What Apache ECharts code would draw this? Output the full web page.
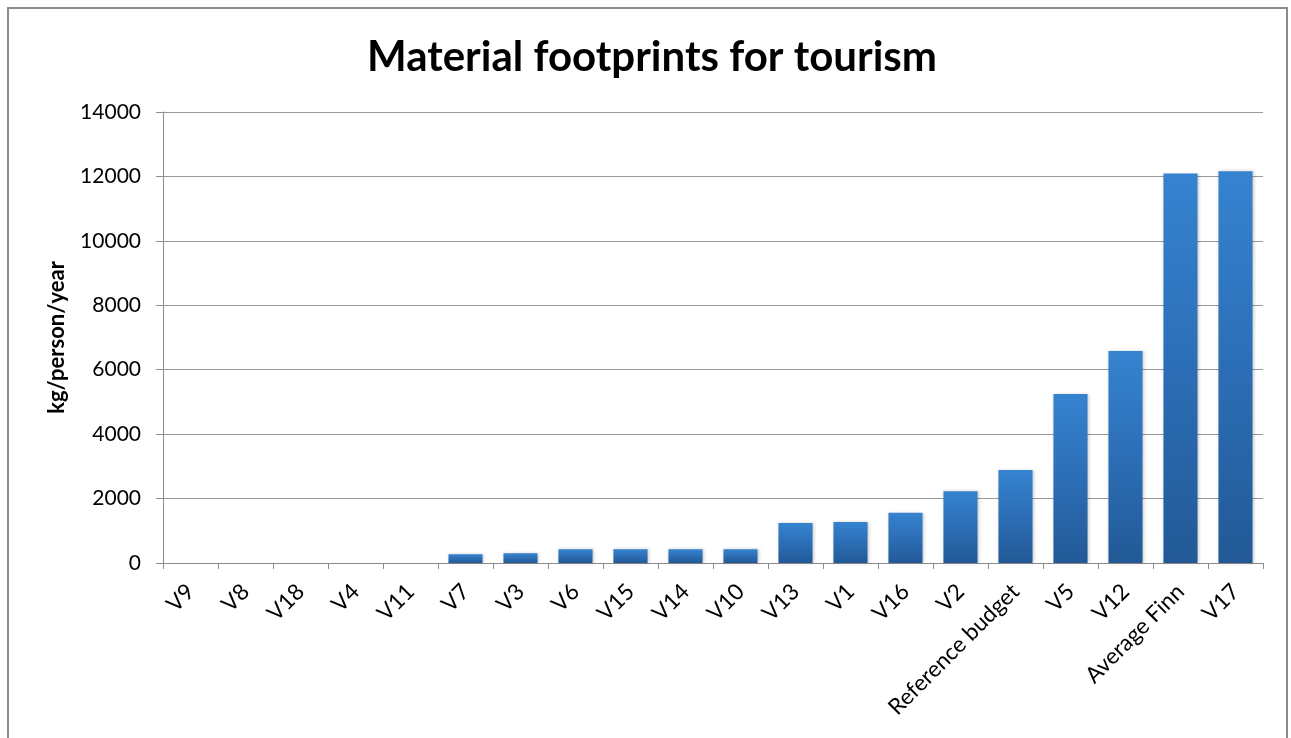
<!DOCTYPE html>
<html>
<head>
<meta charset="utf-8">
<script src="https://cdn.jsdelivr.net/npm/echarts@6/dist/echarts.min.js"></script>
<style>
html,body{margin:0;padding:0;background:#fff;}
#chart{width:1291px;height:738px;}
</style>
</head>
<body>
<div id="chart"></div>
<script>
const titleText = "Material footprints for tourism";
const yAxisName = "kg/person/year";
const categories = ["V9","V8","V18","V4","V11","V7","V3","V6","V15","V14","V10","V13","V1","V16","V2","Reference budget","V5","V12","Average Finn","V17"];
const values = [0,0,0,0,0,270,300,425,425,425,425,1240,1270,1560,2230,2890,5250,6580,12090,12160];
const yMin = 0, yMax = 14000, yStep = 2000;

const chart = echarts.init(document.getElementById('chart'), null, {renderer:'canvas'});
const font = 'Lato, "Open Sans", "Liberation Sans", sans-serif';
chart.setOption({
  backgroundColor:'#ffffff',
  animation:false,
  graphic:[{
    type:'rect', silent:true, z:-10,
    shape:{x:8,y:8,width:1279,height:780},
    style:{fill:'none',stroke:'#8c8c8c',lineWidth:2}
  }],
  title:{
    text:titleText, left:647, textAlign:'center', top:31,
    textStyle:{fontFamily:font,fontSize:42,fontWeight:'bold',color:'#000'}
  },
  grid:{left:163,right:28,top:112,bottom:175,containLabel:false},
  xAxis:{
    type:'category', data:categories,
    boundaryGap:true,
    axisLine:{lineStyle:{color:'#8c8c8c',width:1}},
    axisTick:{show:true,length:6,lineStyle:{color:'#8c8c8c'}},
    axisLabel:{rotate:45,interval:0,fontFamily:font,fontSize:22.5,color:'#000',margin:25}
  },
  yAxis:{
    type:'value', min:yMin, max:yMax, interval:yStep,
    name:yAxisName, nameLocation:'middle', nameGap:95, nameRotate:90,
    nameTextStyle:{fontFamily:font,fontSize:22,fontWeight:'bold',color:'#000'},
    axisLine:{show:true,lineStyle:{color:'#8c8c8c'}},
    axisTick:{show:true,length:7,lineStyle:{color:'#8c8c8c'}},
    axisLabel:{fontFamily:font,fontSize:21,color:'#000',margin:22,formatter:function(v){return String(v);}},
    splitLine:{lineStyle:{color:'#999999',width:1}}
  },
  series:[{
    type:'bar', data:values, barCategoryGap:'38%',
    itemStyle:{
      color:new echarts.graphic.LinearGradient(0,0,0,1,[
        {offset:0,color:'#3683d0'},
        {offset:0.5,color:'#2c6eb6'},
        {offset:1,color:'#225996'}
      ]),
      shadowColor:'rgba(0,0,0,0.2)', shadowBlur:3, shadowOffsetX:1, shadowOffsetY:0
    }
  }]
});
</script>
</body>
</html>
